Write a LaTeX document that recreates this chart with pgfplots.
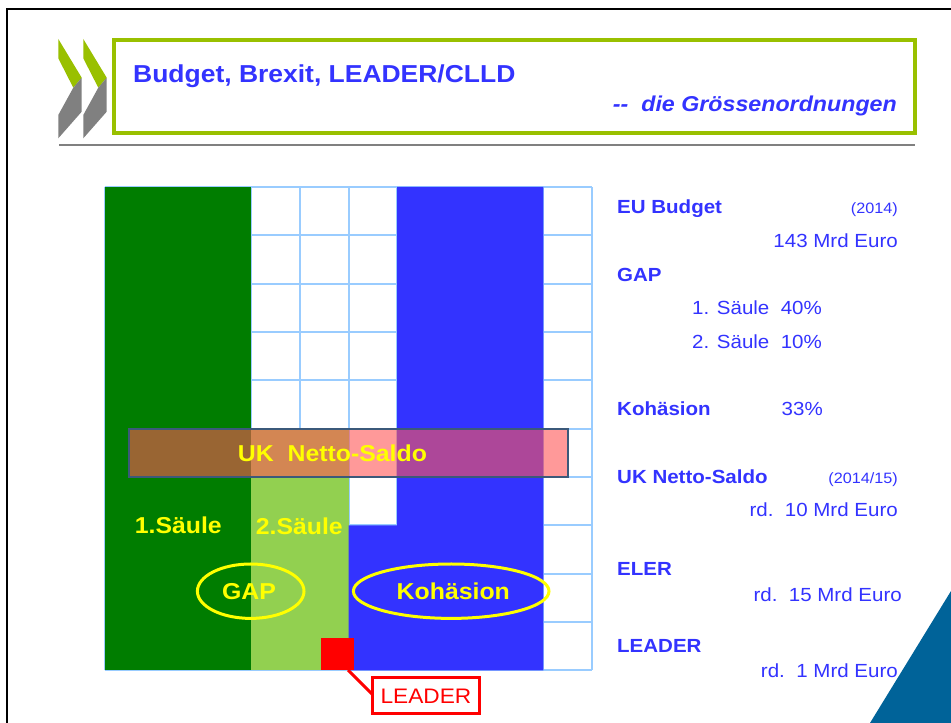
\documentclass[border=0pt]{standalone}
\usepackage{pgfplots}
\pgfplotsset{compat=1.18}
\usepackage{fontspec}
\setmainfont{Liberation Sans}[FakeStretch=1.08]
\definecolor{tblue}{RGB}{51,51,255}
\definecolor{frgreen}{RGB}{153,192,0}
\definecolor{chgray}{RGB}{128,128,128}
\definecolor{gridblue}{RGB}{153,204,255}
\definecolor{cgreen}{RGB}{0,125,0}
\definecolor{clight}{RGB}{146,208,80}
\definecolor{cblue}{RGB}{51,51,255}
\definecolor{ukred}{RGB}{255,85,85}
\definecolor{ukborder}{RGB}{59,89,122}
\definecolor{tri}{RGB}{0,99,153}
\definecolor{cyellow}{RGB}{255,255,0}
\definecolor{cred}{RGB}{255,0,0}
\newcommand{\fs}[1]{\fontsize{#1}{#1}\selectfont}
\begin{document}
\begin{tikzpicture}
\useasboundingbox (0,0) rectangle (951pt,723pt);
\fill[white] (0,0) rectangle (951pt,723pt);
\begin{scope}[shift={(0pt,723pt)},x=1pt,y=-1pt]
  % slide border
  \draw[black,line width=2.6pt] (7,740) -- (7,9) -- (960,9);
  % chevrons
  \foreach \d in {0,25}{
    \fill[frgreen] (58.3+\d,39) -- (81.7+\d,77.7) -- (73.3+\d,87.7) -- (58.3+\d,58.3) -- cycle;
    \fill[chgray] (73.3+\d,87.7) -- (81.7+\d,77.7) -- (81.7+\d,111.7) -- (58.3+\d,138.3) -- (58.3+\d,115) -- cycle;
  }
  % title box
  \draw[frgreen,line width=4pt] (114,40) rectangle (915,133.5);
  \node[anchor=base west,inner sep=0,text=tblue] at (133,82.7) {\fs{24.5}\bfseries Budget, Brexit, LEADER/CLLD};
  \node[anchor=base east,inner sep=0,text=tblue] at (897,111.7) {\fs{21.5}\bfseries\itshape -{}-\ \ die Grössenordnungen};
  \draw[chgray,line width=1.6pt] (59,145) -- (915,145);
\end{scope}

\begin{axis}[at={(105pt,52.5pt)},anchor=south west,
  width=487pt,height=483.5pt,scale only axis,
  xmin=0,xmax=10,ymin=0,ymax=10,
  xtick={0,...,10},ytick={0,...,10},
  xticklabels={},yticklabels={},
  major tick length=0pt,
  grid=major,major grid style={draw=gridblue,line width=2pt},
  axis line style={draw=none}]
  % 1. Saeule (30 cells)
  \addplot[fill=cgreen,draw=none] coordinates {(-0.03,0) (3,0) (3,10) (-0.03,10)} -- cycle;
  % 2. Saeule (10 cells)
  \addplot[fill=clight,draw=none] coordinates {(3,0) (5,0) (5,5) (3,5)} -- cycle;
  % Kohaesion (33 cells)
  \addplot[fill=cblue,draw=none] coordinates {(5,0) (9,0) (9,10) (6,10) (6,3) (5,3)} -- cycle;
  % LEADER (~1 cell)
  \addplot[fill=cred,draw=none] coordinates {(4.43,0) (5.11,0) (5.11,0.68) (4.43,0.68)} -- cycle;
  % UK Netto-Saldo
  \addplot[fill=ukred,fill opacity=0.6,draw=ukborder,line width=2pt] coordinates {(0.5,4) (9.5,4) (9.5,5) (0.5,5)} -- cycle;
\end{axis}

\begin{scope}[shift={(0pt,723pt)},x=1pt,y=-1pt]
  \node[anchor=base,inner sep=0,text=cyellow] at (332.5,461.7) {\fs{23}\bfseries UK\ \ Netto-Saldo};
  \node[anchor=base,inner sep=0,text=cyellow] at (178.3,533.3) {\fs{23}\bfseries 1.Säule};
  \node[anchor=base,inner sep=0,text=cyellow] at (299.3,535) {\fs{23}\bfseries 2.Säule};
  \draw[cyellow,line width=3pt] (250.7,591.2) ellipse [x radius=53.3pt,y radius=27.2pt];
  \draw[cyellow,line width=3pt] (451.2,591.2) ellipse [x radius=97.8pt,y radius=27.2pt];
  \node[anchor=base,inner sep=0,text=cyellow] at (249,600) {\fs{23}\bfseries GAP};
  \node[anchor=base,inner sep=0,text=cyellow] at (453.3,600) {\fs{23}\bfseries Kohäsion};
  % LEADER callout
  \draw[cred,line width=3pt] (348,670) -- (373,695);
  \draw[cred,line width=2.7pt,fill=white] (372.7,677.3) rectangle (479.3,713.3);
  \node[anchor=base,inner sep=0,text=cred] at (426,703.3) {\fs{21}LEADER};
  % corner triangle
  \fill[tri] (870,723) -- (951,591) -- (951,723) -- cycle;
  % right-hand text
  \begin{scope}[every node/.style={inner sep=0,text=tblue}]
    \node[anchor=base west] at (617,214) {\fs{19}\bfseries EU Budget};
    \node[anchor=base east] at (898,214) {\fs{15}(2014)};
    \node[anchor=base east] at (898,247.7) {\fs{19}143 Mrd Euro};
    \node[anchor=base west] at (617,281.7) {\fs{19}\bfseries GAP};
    \node[anchor=base west] at (692,315) {\fs{19}1. Säule\ \ 40\%};
    \node[anchor=base west] at (692,348.3) {\fs{19}2. Säule\ \ 10\%};
    \node[anchor=base west] at (617,415.7) {\fs{19}\bfseries Kohäsion};
    \node[anchor=base east] at (823,415.7) {\fs{19}33\%};
    \node[anchor=base west] at (617,483.3) {\fs{19}\bfseries UK Netto-Saldo};
    \node[anchor=base east] at (898,483.3) {\fs{15}(2014/15)};
    \node[anchor=base east] at (898,516.7) {\fs{19}rd.\ \ 10 Mrd Euro};
    \node[anchor=base west] at (617,576) {\fs{19}\bfseries ELER};
    \node[anchor=base east] at (902,601.7) {\fs{19}rd.\ \ 15 Mrd Euro};
    \node[anchor=base west] at (617,652.7) {\fs{19}\bfseries LEADER};
    \node[anchor=base east] at (898,677.7) {\fs{19}rd.\ \ 1 Mrd Euro};
  \end{scope}
\end{scope}
\end{tikzpicture}
\end{document}
